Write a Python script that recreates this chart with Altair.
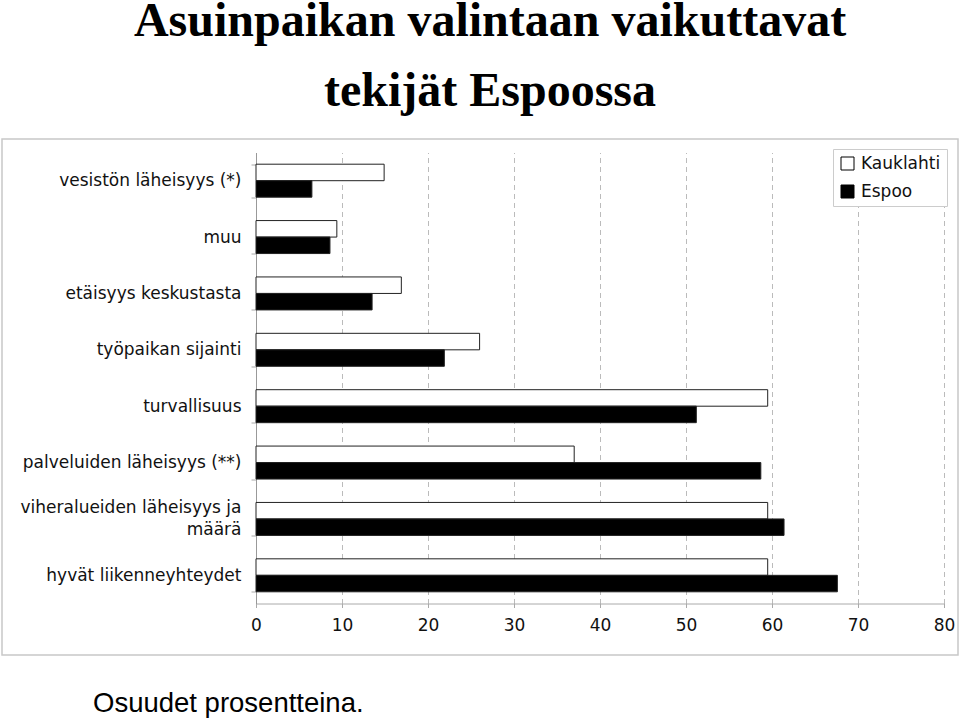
import altair as alt
import pandas as pd

# ---- data ----
categories = [
    "vesistön läheisyys (*)",
    "muu",
    "etäisyys keskustasta",
    "työpaikan sijainti",
    "turvallisuus",
    "palveluiden läheisyys (**)",
    "viheralueiden läheisyys ja määrä",
    "hyvät liikenneyhteydet",
]
series = ["Kauklahti", "Espoo"]
kauklahti = [14.9, 9.4, 16.9, 26.0, 59.5, 37.0, 59.5, 59.5]
espoo = [6.5, 8.6, 13.5, 21.9, 51.2, 58.7, 61.4, 67.6]
x_ticks = [0, 10, 20, 30, 40, 50, 60, 70, 80]
title_lines = ["Asuinpaikan valintaan vaikuttavat", "tekijät Espoossa"]
note = ["Osuudet prosentteina."]

rows = []
for c, k, e in zip(categories, kauklahti, espoo):
    rows.append({"category": c, "series": "Kauklahti", "value": k})
    rows.append({"category": c, "series": "Espoo", "value": e})
df = pd.DataFrame(rows)

FONT = "DejaVu Sans"
wrapped = "viheralueiden läheisyys ja määrä"

label_expr = (
    f"datum.label == '{wrapped}' ? "
    "['viheralueiden läheisyys ja', 'määrä'] : datum.label"
)

bars = alt.Chart(df).mark_bar(stroke="#222222", strokeWidth=1).encode(
    x=alt.X(
        "value:Q",
        scale=alt.Scale(domain=[0, 80], nice=False, zero=True),
        axis=alt.Axis(
            title=None,
            values=x_ticks,
            grid=True,
            gridDash=[5, 4],
            gridColor="#bbbbbb",
            gridWidth=1,
            domainColor="#aaaaaa",
            tickColor="#aaaaaa",
            tickSize=4,
            labelPadding=10,
            labelFlush=False,
            labelFont=FONT,
            labelFontSize=17,
            labelColor="#111111",
        ),
    ),
    y=alt.Y(
        "category:N",
        sort=categories,
        scale=alt.Scale(paddingInner=0.415, paddingOuter=0.2075),
        axis=alt.Axis(
            title=None,
            tickBand="extent",
            domainColor="#999999",
            tickColor="#aaaaaa",
            tickSize=5,
            labelPadding=10,
            labelFont=FONT,
            labelFontSize=17,
            labelColor="#111111",
            labelLimit=400,
            labelLineHeight=22,
            labelExpr=label_expr,
            labelOffset={
                "condition": {"test": f"datum.value == '{wrapped}'", "value": -11},
                "value": 0,
            },
        ),
    ),
    yOffset=alt.YOffset("series:N", sort=series),
    color=alt.Color(
        "series:N",
        sort=series,
        scale=alt.Scale(domain=series, range=["white", "black"]),
        legend=alt.Legend(
            title=None,
            orient="none",
            legendX=577,
            legendY=-3.5,
            symbolType="square",
            symbolSize=169,
            symbolStrokeColor="black",
            symbolStrokeWidth=1,
            labelFont=FONT,
            labelFontSize=17,
            labelColor="#111111",
            labelOffset=5,
            rowPadding=10,
            padding=6,
            strokeColor="#cccccc",
            fillColor="white",
        ),
    ),
)

frame = alt.Chart(pd.DataFrame({"k": [0]})).mark_rect(
    fillOpacity=0, stroke="#c8c8c8", strokeWidth=1.5
).encode(
    x=alt.value(-254), x2=alt.value(702), y=alt.value(-13.5), y2=alt.value(502.5)
)

title1 = alt.Chart(pd.DataFrame({"t": [title_lines[0]]})).mark_text(
    font="Liberation Serif", fontSize=48, fontWeight="bold", align="center",
    baseline="alphabetic", color="black"
).encode(text="t:N", x=alt.value(234), y=alt.value(-117))

title2 = alt.Chart(pd.DataFrame({"t": [title_lines[1]]})).mark_text(
    font="Liberation Serif", fontSize=48, fontWeight="bold", align="center",
    baseline="alphabetic", color="black"
).encode(text="t:N", x=alt.value(234), y=alt.value(-46.5))

note_text = alt.Chart(pd.DataFrame({"t": note})).mark_text(
    font="Liberation Sans", fontSize=27.5, align="left", baseline="alphabetic",
    color="black"
).encode(text="t:N", x=alt.value(-163), y=alt.value(559))

chart = alt.layer(frame, bars, title1, title2, note_text).properties(
    width=688,
    height=451,
    autosize=alt.AutoSizeParams(type="none"),
    padding={"left": 256, "top": 152.5, "right": 16, "bottom": 116.5},
    background="white",
).configure_view(strokeWidth=0)

chart.save("out.html", embed_options={"renderer": "svg", "actions": False})
